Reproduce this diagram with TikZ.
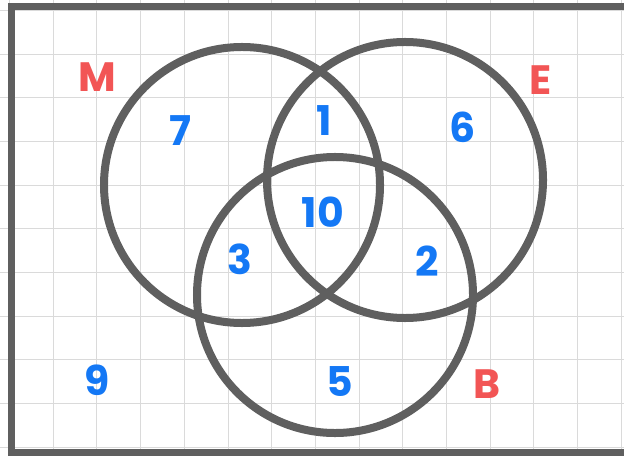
\documentclass[tikz,border=0pt]{standalone}
\usepackage{fontspec}
\setmainfont{Poppins}
\definecolor{ringgray}{RGB}{95,95,95}
\definecolor{gridgray}{RGB}{218,218,218}
\definecolor{setred}{RGB}{242,85,85}
\definecolor{countblue}{RGB}{20,120,245}
\tikzset{
  grid line/.style={line width=0.8pt,draw=gridgray},
  frame line/.style={line width=0.21cm,draw=ringgray},
  set ring/.style={
    circle,
    draw=ringgray,
    line width=0.24cm,
    minimum size=8.28cm,
    inner sep=0pt
  },
  set name/.style={text=setred,font=\fontsize{35}{35}\selectfont\bfseries},
  count/.style={text=countblue,font=\fontsize{35}{35}\selectfont\bfseries}
}

\begin{document}
\begin{tikzpicture}[x=0.03cm,y=-0.03cm]
  \useasboundingbox (0,0) rectangle (624,456);
  \fill[white] (0,0) rectangle (624,456);
  % background grid
  \foreach \gx in {0,...,14}
    \draw[grid line] (9.5+43.7*\gx,0) -- (9.5+43.7*\gx,456);
  \foreach \gy in {0,...,10}
    \draw[grid line] (0,10.3+43.7*\gy) -- (624,10.3+43.7*\gy);
  % universe
  \draw[frame line] (11.5,7) rectangle (650,452);

  \node[set ring] (ringM) at (242,185) {};
  \node[set ring] (ringE) at (405,180) {};
  \node[set ring] (ringB) at (335,295) {};

  \node[set name] (nameM) at (97,77) {M};
  \node[set name] (nameE) at (541,80) {E};
  \node[set name] (nameB) at (487,384) {B};

  \node[count] (onlyM) at (180,131) {7};
  \node[count] (onlyME) at (324,121) {1};
  \node[count] (onlyE) at (463,127) {6};
  \node[count] (allMEB) at (323,212) {10};
  \node[count] (onlyMB) at (240,259) {3};
  \node[count] (onlyEB) at (427,261) {2};
  \node[count] (noneMEB) at (97,380) {9};
  \node[count] (onlyB) at (340,382) {5};
\end{tikzpicture}
\end{document}
